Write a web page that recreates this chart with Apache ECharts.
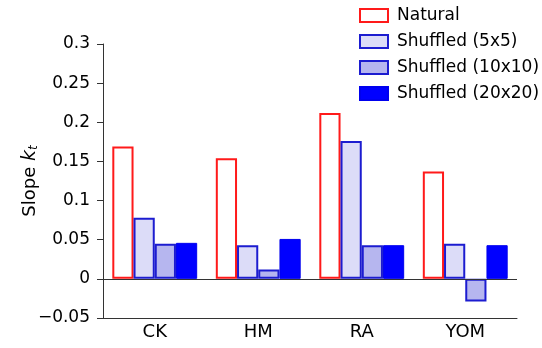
<!DOCTYPE html>
<html>
<head>
<meta charset="utf-8">
<script src="https://cdn.jsdelivr.net/npm/echarts@6/dist/echarts.min.js"></script>
<style>
    html, body { margin: 0; padding: 0; background: #fff; }
    #chart-box { width: 542px; height: 348px; }
</style>
</head>
<body>
<div id="chart-box"></div>
<script>
    // groups along the x axis
    let categories = ['CK', 'HM', 'RA', 'YOM'];
    let seriesNames = ['Natural', 'Shuffled (5x5)', 'Shuffled (10x10)', 'Shuffled (20x20)'];

    // slope k_t per group
    let natural = [0.169, 0.154, 0.212, 0.137];
    let shuffled5 = [0.078, 0.043, 0.176, 0.045];
    let shuffled10 = [0.045, 0.012, 0.043, -0.029];
    let shuffled20 = [0.046, 0.051, 0.043, 0.043];

    let font = 'DejaVu Sans, Liberation Sans, sans-serif';

    let styles = [
        {color: '#ffffff', borderColor: '#ff1a1a', borderWidth: 2},
        {color: '#dcdcf8', borderColor: '#1c1cd0', borderWidth: 2},
        {color: '#b6b6ef', borderColor: '#1c1cd0', borderWidth: 2},
        {color: '#0000ff', borderColor: '#0000ee', borderWidth: 1}
    ];

    let values = [natural, shuffled5, shuffled10, shuffled20];

    let series = values.map(function (data, i) {
        let s = {
            name: seriesNames[i],
            type: 'bar',
            data: data,
            barGap: '0%',
            barCategoryGap: '18%',
            itemStyle: styles[i]
        };
        if (i === 0) {
            s.markLine = {
                silent: true,
                symbol: 'none',
                label: {show: false},
                lineStyle: {color: '#333', width: 1, type: 'solid'},
                data: [{yAxis: 0}]
            };
        }
        return s;
    });

    let option = {
        animation: false,
        grid: {left: 103, right: 25, top: 44, bottom: 30},
        legend: {
            orient: 'vertical',
            left: 354,
            top: 2,
            icon: 'rect',
            itemWidth: 28,
            itemHeight: 13,
            itemGap: 9,
            textStyle: {fontFamily: font, fontSize: 17, color: '#000', padding: [0, 0, 0, 4]},
            data: seriesNames
        },
        xAxis: {
            type: 'category',
            data: categories,
            axisLine: {onZero: false, lineStyle: {color: '#333', width: 1}},
            axisTick: {show: false},
            axisLabel: {fontFamily: font, fontSize: 18, color: '#000', margin: 5}
        },
        yAxis: {
            type: 'value',
            min: -0.05,
            max: 0.3,
            interval: 0.05,
            name: '{n|Slope }{k|k}{t|t}',
            nameLocation: 'middle',
            nameGap: 63,
            nameMoveOverlap: false,
            nameRotate: 90,
            nameTextStyle: {
                rich: {
                    n: {fontFamily: font, fontSize: 18, color: '#000'},
                    k: {fontFamily: font, fontSize: 19, fontStyle: 'italic', color: '#000'},
                    t: {fontFamily: font, fontSize: 12, fontStyle: 'italic', color: '#000', verticalAlign: 'bottom', padding: [8, 0, 0, 0]}
                }
            },
            splitLine: {show: false},
            axisLine: {show: true, lineStyle: {color: '#333', width: 1}},
            axisTick: {show: true, inside: false, length: 6, lineStyle: {color: '#333'}},
            axisLabel: {
                fontFamily: font,
                fontSize: 17,
                color: '#000',
                margin: 13,
                formatter: function (v) {
                    let r = parseFloat(v.toFixed(2));
                    return r < 0 ? '\u2212' + String(-r) : String(r);
                }
            }
        },
        series: series
    };

    let chart = echarts.init(document.getElementById('chart-box'));
    chart.setOption(option);

    window.addEventListener('resize', function () {
        chart.resize();
    });
</script>
</body>
</html>
